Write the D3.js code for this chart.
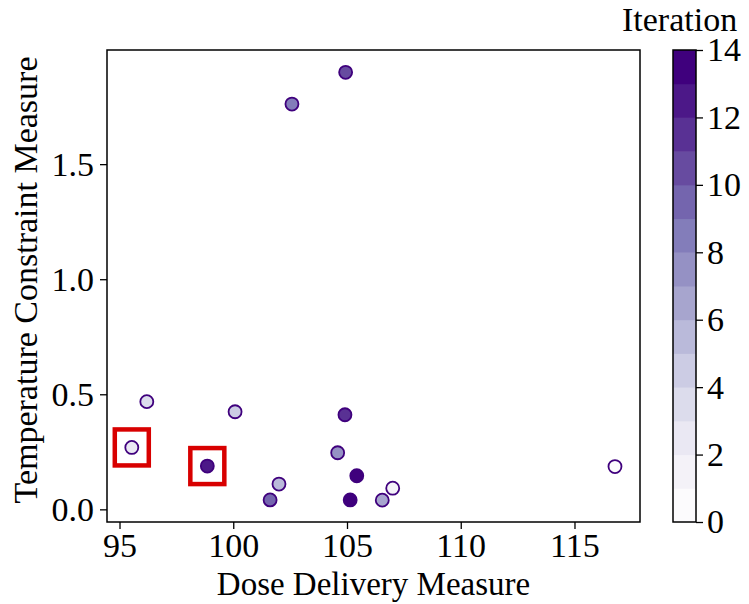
<!DOCTYPE html>
<html>
<head>
<meta charset="utf-8">
<script src="https://cdn.jsdelivr.net/npm/d3@7"></script>
<style>
  body { margin: 0; background: #fff; }
  text { font-family: "Liberation Serif", "Times New Roman", serif; fill: #000; }
</style>
</head>
<body>
<div class="center"></div>
<script>
// data
var dose = [116.78, 107.01, 95.54, 96.20, 100.08, 102.01, 106.55, 104.59,
            102.58, 101.62, 104.94, 104.91, 98.86, 105.43, 105.14];
var temp = [0.186, 0.092, 0.269, 0.468, 0.424, 0.110, 0.040, 0.246,
            1.761, 0.041, 1.899, 0.411, 0.188, 0.146, 0.041];
var iteration = [0, 1, 2, 3, 4, 5, 6, 7, 8, 9, 10, 11, 12, 13, 14];
var highlighted = [2, 12]; // indices of the boxed points
var xTicks = [95, 100, 105, 110, 115];
var yTicks = [0.0, 0.5, 1.0, 1.5];
var cTicks = [0, 2, 4, 6, 8, 10, 12, 14];

var margin = {top: 50, right: 109, bottom: 82, left: 107},
    width = 749 - margin.left - margin.right,
    height = 604 - margin.top - margin.bottom;

var svg = d3.select(".center").append("svg")
    .attr("width", 749)
    .attr("height", 604);

var g = svg.append("g")
    .attr("transform", "translate(" + margin.left + "," + margin.top + ")");

var x = d3.scaleLinear().domain([94.45, 117.88]).range([0, width]);
var y = d3.scaleLinear().domain([-0.055, 1.996]).range([height, 0]);

// 14 discrete purples, like the colour bar
var nBands = 14;
var color = d3.scaleQuantize()
    .domain([0, 14])
    .range(d3.range(nBands).map(function(i) { return d3.interpolatePurples(i / (nBands - 1)); }));

// points
g.selectAll("circle")
    .data(iteration)
    .enter().append("circle")
    .attr("cx", function(d, i) { return x(dose[i]); })
    .attr("cy", function(d, i) { return y(temp[i]); })
    .attr("r", 6.5)
    .style("fill", function(d) { return color(d); })
    .style("stroke", "#3f007d")
    .style("stroke-width", 1.8);

// red boxes round the picked points
g.selectAll(".hl")
    .data(highlighted)
    .enter().append("rect")
    .attr("class", "hl")
    .attr("x", function(i) { return x(dose[i]) - 17; })
    .attr("y", function(i) { return y(temp[i]) - 18; })
    .attr("width", 34)
    .attr("height", 36)
    .style("fill", "none")
    .style("stroke", "#d80000")
    .style("stroke-width", 4.5);

// frame
g.append("rect")
    .attr("width", width)
    .attr("height", height)
    .style("fill", "none")
    .style("stroke", "#000")
    .style("stroke-width", 1.5);

var xAxis = g.append("g")
    .attr("transform", "translate(0," + height + ")")
    .call(d3.axisBottom(x).tickValues(xTicks).tickSize(7).tickPadding(4).tickFormat(d3.format("d")));
var yAxis = g.append("g")
    .call(d3.axisLeft(y).tickValues(yTicks).tickSize(7).tickPadding(6).tickFormat(d3.format(".1f")));

[xAxis, yAxis].forEach(function(a) {
    a.select(".domain").remove();
    a.selectAll("line").style("stroke", "#000").style("stroke-width", 1.3);
    a.selectAll("text").style("font-size", "34px").style("font-family", "Liberation Serif");
});

svg.append("text")
    .attr("x", margin.left + width / 2)
    .attr("y", 595)
    .attr("text-anchor", "middle")
    .style("font-size", "33px")
    .text("Dose Delivery Measure");

svg.append("text")
    .attr("transform", "translate(37," + (margin.top + height / 2 - 6) + ") rotate(-90)")
    .attr("text-anchor", "middle")
    .style("font-size", "34px")
    .text("Temperature Constraint Measure");

// colour bar
var cbX = 673, cbW = 23;
var cy = d3.scaleLinear().domain([0, 14]).range([margin.top + height, margin.top]);

var cb = svg.append("g");
cb.selectAll("rect")
    .data(d3.range(nBands))
    .enter().append("rect")
    .attr("x", cbX)
    .attr("y", function(i) { return cy(i + 1); })
    .attr("width", cbW)
    .attr("height", function(i) { return cy(i) - cy(i + 1) + 0.5; })
    .style("fill", function(i) { return color(i + 0.5); });

cb.append("rect")
    .attr("x", cbX)
    .attr("y", margin.top)
    .attr("width", cbW)
    .attr("height", height)
    .style("fill", "none")
    .style("stroke", "#000")
    .style("stroke-width", 1.5);

var cAxis = svg.append("g")
    .attr("transform", "translate(" + (cbX + cbW) + ",0)")
    .call(d3.axisRight(cy).tickValues(cTicks).tickSize(7).tickPadding(4));
cAxis.select(".domain").remove();
cAxis.selectAll("line").style("stroke", "#000").style("stroke-width", 1.3);
cAxis.selectAll("text").style("font-size", "34px").style("font-family", "Liberation Serif");

svg.append("text")
    .attr("x", 622)
    .attr("y", 31)
    .attr("text-anchor", "start")
    .style("font-size", "34px")
    .text("Iteration");
</script>
</body>
</html>
